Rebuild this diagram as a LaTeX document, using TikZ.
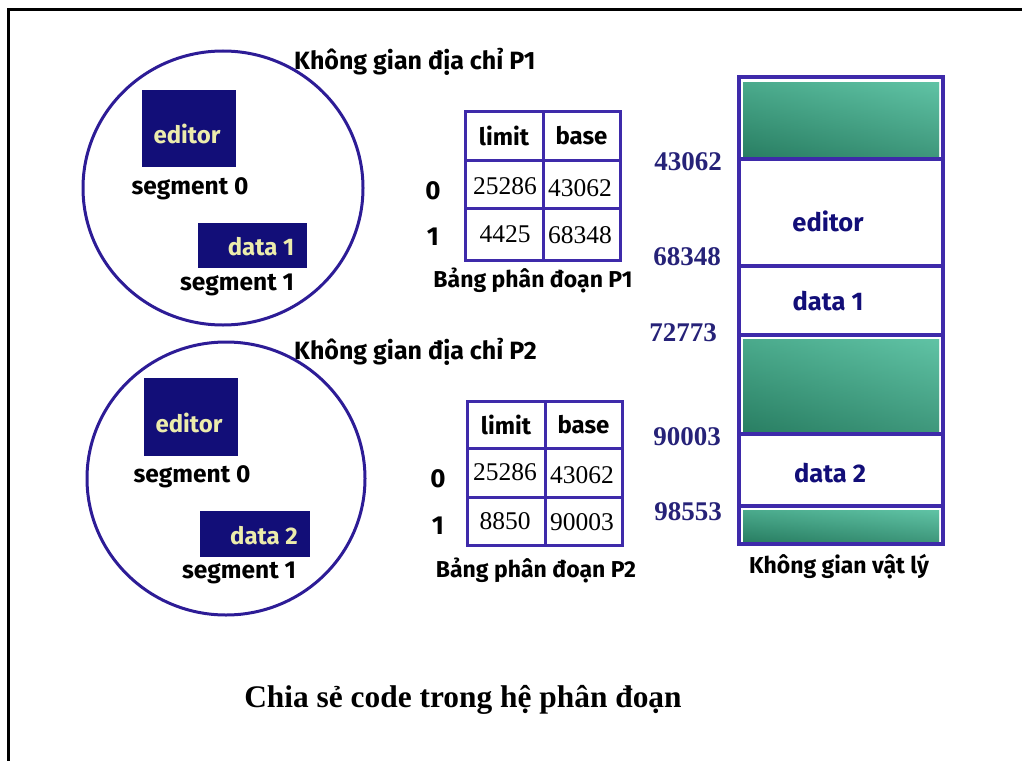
\documentclass[tikz,border=0pt]{standalone}
\usepackage{fontspec}
\setmainfont{Liberation Serif}
\newfontfamily\labfont{Fira Sans}
\newfontfamily\numfont{Liberation Serif}
\usetikzlibrary{shapes.geometric}

\definecolor{navy}{RGB}{18,14,120}
\definecolor{ring}{RGB}{45,28,150}
\definecolor{grid}{RGB}{62,42,170}
\definecolor{addr}{RGB}{38,34,120}
\definecolor{ylw}{RGB}{236,236,172}
\definecolor{tealTop}{RGB}{90,190,160}
\definecolor{tealBot}{RGB}{30,112,86}
\definecolor{tealLeft}{RGB}{56,146,116}
\definecolor{tealRight}{RGB}{104,202,172}

\tikzset{
  ring/.style={ellipse, draw=ring, line width=3pt, inner sep=0pt},
  segbox/.style={rectangle, fill=navy, inner sep=0pt},
  boxtext/.style={font=\labfont\bfseries\fontsize{24}{24}\selectfont, text=ylw, inner sep=0pt},
  seglabel/.style={font=\labfont\bfseries\fontsize{24.5}{24.5}\selectfont, inner sep=0pt},
  spacetitle/.style={font=\labfont\bfseries\fontsize{25}{25}\selectfont, inner sep=0pt, anchor=west},
  cell/.style={rectangle, draw=grid, line width=3pt, inner sep=0pt},
  headtext/.style={font=\labfont\bfseries\fontsize{24}{24}\selectfont, inner sep=0pt},
  celltext/.style={font=\numfont\fontsize{25.5}{25.5}\selectfont, inner sep=0pt},
  rowlabel/.style={font=\labfont\bfseries\fontsize{26}{26}\selectfont, inner sep=0pt},
  tabcaption/.style={font=\labfont\bfseries\fontsize{23}{23}\selectfont, inner sep=0pt},
  memcell/.style={rectangle, draw=grid, line width=3.2pt, inner sep=0pt, minimum width=204pt},
  memtext/.style={font=\labfont\bfseries\fontsize{25.5}{25.5}\selectfont, text=navy, inner sep=0pt},
  addrtext/.style={font=\numfont\bfseries\fontsize{27}{27}\selectfont, text=addr, inner sep=0pt},
  holev/.style={top color=tealTop, bottom color=tealBot},
  holeh/.style={left color=tealLeft, right color=tealRight, fill opacity=0.45},
}

\begin{document}
\begin{tikzpicture}[x=1pt, y=-1pt]
\useasboundingbox (0,0) rectangle (1022,760);

% page frame (only the top and left edges fall inside the picture)
\draw[line width=3pt, line cap=rect] (8,765) -- (8,10) -- (1030,10);

% ---------------- address space of P1 ----------------
\node[ring, minimum width=280pt, minimum height=274pt] (c1) at (223,188) {};
\node[segbox, minimum width=94pt, minimum height=77pt] (e1) at (189,128.5) {};
\node[boxtext] (e1t) at (187,134) {editor};
\node[seglabel] (s10) at (190,189) {segment 0};
\node[segbox, minimum width=109pt, minimum height=45pt] (d1) at (252.5,245.5) {};
\node[boxtext] (d1t) at (261,247) {data 1};
\node[seglabel] (s11) at (237,285) {segment 1};
\node[spacetitle] (p1t) at (294,62) {Không gian địa chỉ P1};

% ---------------- address space of P2 ----------------
\node[ring, minimum width=278pt, minimum height=273pt] (c2) at (226,478.5) {};
\node[segbox, minimum width=94pt, minimum height=78pt] (e2) at (191,417) {};
\node[boxtext] (e2t) at (189,423) {editor};
\node[seglabel] (s20) at (192,477) {segment 0};
\node[segbox, minimum width=110pt, minimum height=46pt] (d2) at (255,534) {};
\node[boxtext] (d2t) at (264,536) {data 2};
\node[seglabel] (s21) at (239,573) {segment 1};
\node[spacetitle] (p2t) at (294,352) {Không gian địa chỉ P2};

% ---------------- segment table of P1 ----------------
\node[cell, minimum width=78pt, minimum height=49pt] (a00) at (504,135.5) {};
\node[cell, minimum width=77pt, minimum height=49pt] (a01) at (581.5,135.5) {};
\node[cell, minimum width=78pt, minimum height=48pt] (a10) at (504,184) {};
\node[cell, minimum width=77pt, minimum height=48pt] (a11) at (581.5,184) {};
\node[cell, minimum width=78pt, minimum height=52pt] (a20) at (504,234) {};
\node[cell, minimum width=77pt, minimum height=52pt] (a21) at (581.5,234) {};
\node[headtext] at (a00) {limit};
\node[headtext] at (a01) {base};
\node[celltext] at (505,186) {25286};
\node[celltext] at (580,188) {43062};
\node[celltext] at (505,234) {4425};
\node[celltext] at (580,235) {68348};
\node[rowlabel] (r10) at (433,191) {0};
\node[rowlabel] (r11) at (433,237) {1};
\node[tabcaption] (cap1) at (533,280) {Bảng phân đoạn P1};

% ---------------- segment table of P2 ----------------
\node[cell, minimum width=78pt, minimum height=47pt] (b00) at (506,424.5) {};
\node[cell, minimum width=77pt, minimum height=47pt] (b01) at (583.5,424.5) {};
\node[cell, minimum width=78pt, minimum height=49pt] (b10) at (506,472.5) {};
\node[cell, minimum width=77pt, minimum height=49pt] (b11) at (583.5,472.5) {};
\node[cell, minimum width=78pt, minimum height=48pt] (b20) at (506,521) {};
\node[cell, minimum width=77pt, minimum height=48pt] (b21) at (583.5,521) {};
\node[headtext] at (b00) {limit};
\node[headtext] at (b01) {base};
\node[celltext] at (505,472) {25286};
\node[celltext] at (582,475) {43062};
\node[celltext] at (505,521) {8850};
\node[celltext] at (582,522) {90003};
\node[rowlabel] (r20) at (438,479) {0};
\node[rowlabel] (r21) at (438,526) {1};
\node[tabcaption] (cap2) at (536,570) {Bảng phân đoạn P2};

% ---------------- physical memory ----------------
\foreach \ya/\yb in {82/156, 339/431, 510/541}{
  \shade[holev] (743,\ya) rectangle (939,\yb);
  \shade[holeh] (743,\ya) rectangle (939,\yb);
}
\node[memcell, minimum height=82pt] (m0) at (841,118) {};
\node[memcell, minimum height=107pt] (m1) at (841,212.5) {};
\node[memcell, minimum height=69pt] (m2) at (841,300.5) {};
\node[memcell, minimum height=99pt] (m3) at (841,384.5) {};
\node[memcell, minimum height=72pt] (m4) at (841,470) {};
\node[memcell, minimum height=38pt] (m5) at (841,525) {};
\node[memtext] at (828,221) {editor};
\node[memtext] at (828,301) {data 1};
\node[memtext] at (830,473) {data 2};
\node[addrtext] (x1) at (688,162) {43062};
\node[addrtext] (x2) at (687,257) {68348};
\node[addrtext] (x3) at (683,333) {72773};
\node[addrtext] (x4) at (687,437) {90003};
\node[addrtext] (x5) at (688,512) {98553};
\node[tabcaption] (phys) at (839,567) {Không gian vật lý};

% ---------------- caption ----------------
\node[font=\bfseries\fontsize{31.4}{31.4}\selectfont, inner sep=0pt] (title) at (463,700) {Chia sẻ code trong hệ phân đoạn};
\end{tikzpicture}
\end{document}
